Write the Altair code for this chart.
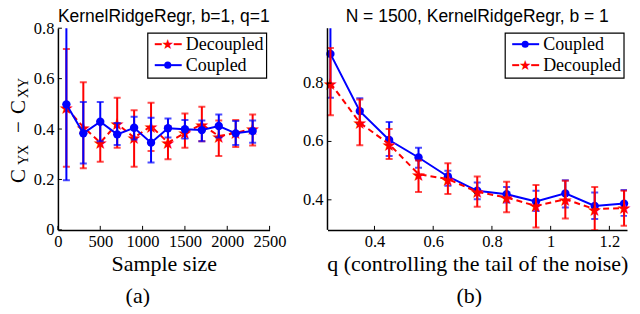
import altair as alt
import pandas as pd

# ---------------- data: panel (a) ----------------
a_title = "KernelRidgeRegr, b=1, q=1"
a_xtitle = "Sample size"
a_sizes = [100, 300, 500, 700, 900, 1100, 1300, 1500, 1700, 1900, 2100, 2300]
a_dec_mean = [0.484, 0.408, 0.346, 0.421, 0.366, 0.412, 0.346, 0.385, 0.419, 0.372, 0.385, 0.401]
a_dec_lo = [0.250, 0.244, 0.270, 0.326, 0.250, 0.313, 0.280, 0.326, 0.352, 0.293, 0.329, 0.335]
a_dec_hi = [0.718, 0.586, 0.420, 0.524, 0.475, 0.504, 0.410, 0.462, 0.488, 0.434, 0.436, 0.458]
a_cou_mean = [0.498, 0.383, 0.429, 0.379, 0.405, 0.346, 0.403, 0.399, 0.396, 0.412, 0.383, 0.392]
a_cou_lo = [0.197, 0.263, 0.352, 0.337, 0.359, 0.267, 0.366, 0.362, 0.352, 0.366, 0.337, 0.346]
a_cou_hi = [0.850, 0.507, 0.507, 0.424, 0.449, 0.445, 0.442, 0.436, 0.434, 0.458, 0.432, 0.434]
a_xticks = [0, 500, 1000, 1500, 2000, 2500]
a_yticks = [0, 0.2, 0.4, 0.6, 0.8]

# ---------------- data: panel (b) ----------------
b_title = "N = 1500, KernelRidgeRegr, b = 1"
b_xtitle = "q (controlling the tail of the noise)"
b_q = [0.25, 0.35, 0.45, 0.55, 0.65, 0.75, 0.85, 0.95, 1.05, 1.15, 1.25]
b_cou_mean = [0.900, 0.704, 0.605, 0.545, 0.480, 0.431, 0.419, 0.394, 0.422, 0.379, 0.387]
b_cou_lo = [0.750, 0.660, 0.550, 0.510, 0.448, 0.402, 0.391, 0.362, 0.374, 0.334, 0.345]
b_cou_hi = [1.050, 0.748, 0.667, 0.578, 0.500, 0.459, 0.444, 0.431, 0.467, 0.425, 0.434]
b_dec_mean = [0.800, 0.664, 0.591, 0.488, 0.471, 0.427, 0.408, 0.379, 0.402, 0.368, 0.372]
b_dec_lo = [0.690, 0.587, 0.540, 0.427, 0.420, 0.376, 0.357, 0.305, 0.336, 0.296, 0.311]
b_dec_hi = [0.920, 0.744, 0.643, 0.535, 0.525, 0.480, 0.462, 0.451, 0.465, 0.444, 0.431]
b_xticks = [0.4, 0.6, 0.8, 1.0, 1.2]
b_yticks = [0.4, 0.6, 0.8]
b_ylabels = ["0.4", "0.6", "0.8"]

series_colors = {"Decoupled": "#ff0000", "Coupled": "#0000ff"}
STAR = "\u2605"

SERIF = "Liberation Serif"
SANS = "Liberation Sans"
H = 202
A_RANGE = [0, 212]      # pixel span of panel (a) inside the shared drawing
B_RANGE = [270, 570]    # pixel span of panel (b)
W_TOT = 570


def frame(xs, mean, lo, hi, name):
    return pd.DataFrame({"xv": xs, "mean": mean, "lo": lo, "hi": hi, "series": name})


def one(s):
    return alt.Chart(pd.DataFrame({"t": [s]}))


def txt(s, x, y, size, angle=0, align="left", baseline="alphabetic", font=SERIF):
    return one(s).mark_text(font=font, fontSize=size, angle=angle, align=align,
                            baseline=baseline, color="black").encode(
        text="t:N", x=alt.value(x), y=alt.value(y))


def legend_layers(order, x0):
    lay = [one("box").mark_rect(fill="white", stroke="black", strokeWidth=1.2).encode(
        x=alt.value(x0), x2=alt.value(x0 + 119), y=alt.value(5), y2=alt.value(50))]
    for i, name in enumerate(order):
        yy = 16 + 21 * i
        col = series_colors[name]
        if name == "Decoupled":
            for a, b in [(7, 14), (26, 34)]:
                lay.append(one(name).mark_rule(color=col, strokeWidth=2).encode(
                    x=alt.value(x0 + a), x2=alt.value(x0 + b), y=alt.value(yy)))
            lay.append(one(STAR).mark_text(font="DejaVu Sans", fontSize=14, color=col,
                                           align="center", baseline="middle", dy=1).encode(
                text="t:N", x=alt.value(x0 + 20), y=alt.value(yy)))
        else:
            lay.append(one(name).mark_rule(color=col, strokeWidth=2).encode(
                x=alt.value(x0 + 7), x2=alt.value(x0 + 34), y=alt.value(yy)))
            lay.append(one(name).mark_circle(size=50, color=col, opacity=1).encode(
                x=alt.value(x0 + 20), y=alt.value(yy)))
        lay.append(one(name).mark_text(font=SERIF, fontSize=18, align="left",
                                       baseline="middle", color="black").encode(
            text="t:N", x=alt.value(x0 + 38), y=alt.value(yy + 1)))
    return lay


def panel(frames, order, xdom, xrange, ydom, xticks, yticks, xtitle, show_yaxis, extra):
    xs = alt.Scale(domain=xdom, range=xrange, nice=False, zero=False)
    ys = alt.Scale(domain=ydom, nice=False, zero=False)
    lab = "'' + datum.value"
    xax = alt.Axis(values=xticks, labelExpr=lab, title=xtitle, ticks=False,
                   labelPadding=4, titlePadding=3, orient="bottom", domainWidth=1.5,
                   labelOverlap=False, labelFlush=False)
    if show_yaxis:
        yax = alt.Axis(values=yticks, labelExpr=lab, title=None, ticks=False,
                       labelPadding=4, orient="left", domainWidth=1.5,
                       labelOverlap=False, labelFlush=False)
    else:
        yax = None
    X = alt.X("xv:Q", scale=xs, axis=xax)
    layers = []
    for name in order:
        df = frames[name]
        col = series_colors[name]
        base = alt.Chart(df)
        layers.append(base.mark_rule(color=col, strokeWidth=2, clip=True).encode(
            x=X, y=alt.Y("lo:Q", scale=ys, axis=yax), y2=alt.Y2("hi")))
        for fld in ["lo", "hi"]:
            layers.append(base.mark_tick(color=col, orient="horizontal", size=7,
                                         thickness=2, clip=True).encode(
                x=X, y=alt.Y(f"{fld}:Q", scale=ys, axis=yax)))
        if name == "Decoupled":
            layers.append(base.mark_line(color=col, strokeWidth=2, strokeDash=[6, 4],
                                         clip=True).encode(
                x=X, y=alt.Y("mean:Q", scale=ys, axis=yax)))
            layers.append(base.mark_text(text=STAR, font="DejaVu Sans", fontSize=17,
                                         color=col, align="center", baseline="middle",
                                         dy=1.5).encode(
                x=X, y=alt.Y("mean:Q", scale=ys, axis=yax)))
        else:
            layers.append(base.mark_line(color=col, strokeWidth=2, clip=True).encode(
                x=X, y=alt.Y("mean:Q", scale=ys, axis=yax)))
            layers.append(base.mark_circle(size=70, color=col, opacity=1).encode(
                x=X, y=alt.Y("mean:Q", scale=ys, axis=yax)))
    # small inward tick marks on the axes
    layers.append(alt.Chart(pd.DataFrame({"xv": xticks})).mark_rule(
        color="black", strokeWidth=1).encode(x=X, y=alt.value(H), y2=alt.value(H - 4)))
    layers.append(alt.Chart(pd.DataFrame({"mean": yticks})).mark_rule(
        color="black", strokeWidth=1).encode(
        y=alt.Y("mean:Q", scale=ys, axis=yax),
        x=alt.value(xrange[0]), x2=alt.value(xrange[0] + 4)))
    if not show_yaxis:
        # y axis line and labels of this panel, drawn through its own y scale
        layers.append(one("axis").mark_rule(color="black", strokeWidth=1.5).encode(
            x=alt.value(xrange[0]), y=alt.value(0), y2=alt.value(H)))
        layers.append(alt.Chart(pd.DataFrame({"mean": yticks, "lab": b_ylabels}))
                      .mark_text(font=SERIF, fontSize=16.5, align="right",
                                 baseline="middle", color="black").encode(
            y=alt.Y("mean:Q", scale=ys, axis=yax), text="lab:N",
            x=alt.value(xrange[0] - 4)))
    layers.extend(legend_layers(order, xrange[1] - 122))
    layers.extend(extra)
    return alt.layer(*layers)


# panel (a) annotations: title, y label C_YX - C_XY, "(a)"
a_extra = [
    txt(a_title, (A_RANGE[0] + A_RANGE[1]) / 2, -6, 17.5, align="center", font=SANS),
    txt("C", -33, 155, 21, angle=270),
    txt("YX", -30, 137, 14, angle=270),
    txt("\u2212", -33, 105, 21, angle=270),
    txt("C", -33, 86, 21, angle=270),
    txt("XY", -30, 70, 14, angle=270),
    txt("(a)", 80, 268, 22, align="center", baseline="middle"),
]
b_extra = [
    txt(b_title, (B_RANGE[0] + B_RANGE[1]) / 2, -6, 17.5, align="center", font=SANS),
    txt("(b)", 412, 268, 22, align="center", baseline="middle"),
]

left = panel({"Decoupled": frame(a_sizes, a_dec_mean, a_dec_lo, a_dec_hi, "Decoupled"),
              "Coupled": frame(a_sizes, a_cou_mean, a_cou_lo, a_cou_hi, "Coupled")},
             ["Decoupled", "Coupled"], [0, 2500], A_RANGE, [0, 0.8],
             a_xticks, a_yticks, a_xtitle, True, a_extra)

right = panel({"Decoupled": frame(b_q, b_dec_mean, b_dec_lo, b_dec_hi, "Decoupled"),
               "Coupled": frame(b_q, b_cou_mean, b_cou_lo, b_cou_hi, "Coupled")},
              ["Coupled", "Decoupled"], [0.24, 1.26], B_RANGE, [0.297, 0.988],
              b_xticks, b_yticks, b_xtitle, False, b_extra)

chart = alt.layer(left, right).resolve_scale(
    x="independent", y="independent"
).properties(
    width=W_TOT, height=H,
    padding={"left": 0, "top": 0, "right": 0, "bottom": 0}
).configure_view(stroke=None).configure_axis(
    domainColor="black", grid=False, labelFont=SERIF,
    labelFontSize=16.5, labelColor="black", titleFont=SERIF, titleFontSize=22,
    titleFontWeight="normal", titleColor="black")

chart.save("out.html", embed_options={"renderer": "svg", "actions": False})
